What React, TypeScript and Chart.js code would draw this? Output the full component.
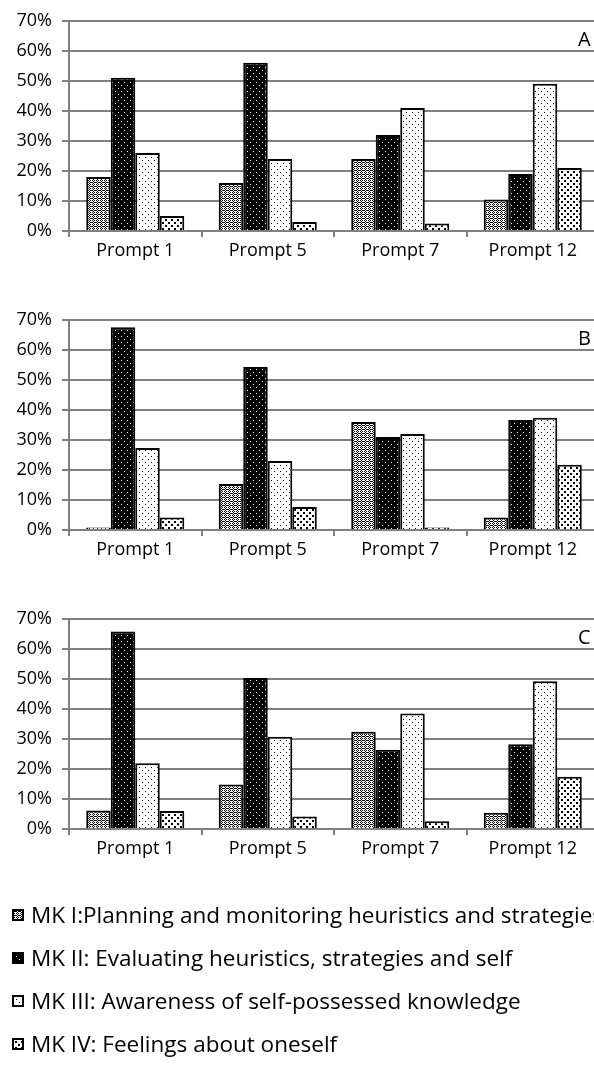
import React, { useEffect, useRef } from "react";
import { Chart, registerables } from "chart.js";

Chart.register(...registerables);

const categories = ["Prompt 1", "Prompt 5", "Prompt 7", "Prompt 12"];
const seriesNames = [
  "MK I:Planning and monitoring heuristics and strategies",
  "MK II: Evaluating heuristics, strategies and self",
  "MK III: Awareness of self-possessed knowledge",
  "MK IV: Feelings about oneself",
];
const yTicks = [0, 10, 20, 30, 40, 50, 60, 70];

// Panel A
const panelA_mk1 = [18, 16, 24, 10.5];
const panelA_mk2 = [51, 56, 32, 19];
const panelA_mk3 = [26, 24, 41, 49];
const panelA_mk4 = [5, 3, 2.5, 21];
// Panel B
const panelB_mk1 = [0.8, 15.3, 36, 4.2];
const panelB_mk2 = [67.5, 54.3, 31, 36.6];
const panelB_mk3 = [27.3, 23, 32, 37.4];
const panelB_mk4 = [4.2, 7.7, 0.8, 21.7];
// Panel C
const panelC_mk1 = [6.2, 14.8, 32.4, 5.4];
const panelC_mk2 = [65.8, 50.3, 26.4, 28.2];
const panelC_mk3 = [21.9, 30.7, 38.5, 49.2];
const panelC_mk4 = [6, 4.2, 2.6, 17.4];

const panels = [
  { letter: "A", data: [panelA_mk1, panelA_mk2, panelA_mk3, panelA_mk4] },
  { letter: "B", data: [panelB_mk1, panelB_mk2, panelB_mk3, panelB_mk4] },
  { letter: "C", data: [panelC_mk1, panelC_mk2, panelC_mk3, panelC_mk4] },
];

const FONT = "'Open Sans', Lato, sans-serif";
const GRID = "#808080";

function makeTile(kind: number): HTMLCanvasElement {
  const c = document.createElement("canvas");
  const ctx = c.getContext("2d")!;
  if (kind === 0) {
    c.width = 4;
    c.height = 4;
    ctx.fillStyle = "#fff";
    ctx.fillRect(0, 0, 4, 4);
    ctx.fillStyle = "#000";
    ctx.fillRect(0, 0, 1, 1);
    ctx.fillRect(2, 0, 1, 1);
    ctx.fillRect(1, 1, 1, 1);
    ctx.fillRect(3, 2, 1, 1);
    ctx.fillRect(0, 2, 1, 1);
    ctx.fillRect(2, 2, 1, 1);
    ctx.fillRect(1, 3, 1, 1);
  } else if (kind === 1) {
    c.width = 6;
    c.height = 6;
    ctx.fillStyle = "#000";
    ctx.fillRect(0, 0, 6, 6);
    ctx.fillStyle = "#fff";
    ctx.fillRect(1, 1, 1, 1);
    ctx.fillRect(4, 4, 1, 1);
  } else if (kind === 2) {
    c.width = 6;
    c.height = 6;
    ctx.fillStyle = "#fff";
    ctx.fillRect(0, 0, 6, 6);
    ctx.fillStyle = "#000";
    ctx.fillRect(1, 1, 1, 1);
    ctx.fillRect(4, 4, 1, 1);
  } else {
    c.width = 6;
    c.height = 6;
    ctx.fillStyle = "#fff";
    ctx.fillRect(0, 0, 6, 6);
    ctx.fillStyle = "#000";
    ctx.fillRect(0, 0, 2, 2);
    ctx.fillRect(3, 3, 2, 2);
  }
  return c;
}

function makePattern(kind: number): CanvasPattern | string {
  const tile = makeTile(kind);
  const tmp = document.createElement("canvas").getContext("2d")!;
  return tmp.createPattern(tile, "repeat") || "#888";
}

function Panel({ letter, data }: { letter: string; data: number[][] }) {
  const ref = useRef<HTMLCanvasElement>(null);
  useEffect(() => {
    if (!ref.current) return;
    const letterPlugin = {
      id: "panelLetter",
      afterDraw(chart: any) {
        const { ctx, chartArea } = chart;
        ctx.save();
        ctx.font = `20px ${FONT}`;
        ctx.fillStyle = "#000";
        ctx.textAlign = "left";
        ctx.textBaseline = "alphabetic";
        ctx.fillText(letter, chartArea.right - 21, chartArea.top + 25);
        ctx.restore();
      },
    };
    const chart = new Chart(ref.current, {
      type: "bar",
      data: {
        labels: categories,
        datasets: data.map((vals, i) => ({
          label: seriesNames[i],
          data: vals,
          backgroundColor: makePattern(i) as any,
          borderColor: "#000",
          borderWidth: 2,
          borderSkipped: "bottom",
          categoryPercentage: 0.74,
          barPercentage: 1.0,
        })),
      },
      options: {
        animation: false,
        responsive: false,
        devicePixelRatio: 1,
        layout: { padding: { top: 20, right: 1, bottom: 29, left: 0 } },
        plugins: { legend: { display: false }, tooltip: { enabled: false } },
        scales: {
          x: {
            afterFit(scale: any) {
              scale.height = 39;
            },
            grid: {
              offset: true,
              drawOnChartArea: false,
              drawTicks: true,
              tickLength: 6,
              color: GRID,
              lineWidth: 2,
            },
            border: { color: GRID, width: 2 },
            ticks: {
              color: "#000",
              font: { family: FONT, size: 18 },
              padding: 3,
              maxRotation: 0,
            },
          },
          y: {
            min: 0,
            max: 70,
            afterFit(scale: any) {
              scale.width = 69;
            },
            afterBuildTicks(scale: any) {
              scale.ticks = yTicks.map((v) => ({ value: v }));
            },
            grid: {
              color: GRID,
              lineWidth: 2,
              drawTicks: true,
              tickLength: 7,
            },
            border: { color: GRID, width: 2 },
            ticks: {
              color: "#000",
              font: { family: FONT, size: 18 },
              padding: 10,
              callback: (v: any) => `${v}%`,
            },
          },
        },
      },
      plugins: [letterPlugin],
    });
    return () => chart.destroy();
  }, [letter, data]);
  return (
    <div style={{ height: 299, width: 600, position: "relative" }}>
      <canvas ref={ref} width={600} height={299} style={{ width: 600, height: 299, display: "block" }} />
    </div>
  );
}

function Swatch({ kind }: { kind: number }) {
  const ref = useRef<HTMLCanvasElement>(null);
  useEffect(() => {
    const c = ref.current;
    if (!c) return;
    const ctx = c.getContext("2d")!;
    const p = ctx.createPattern(makeTile(kind), "repeat");
    ctx.fillStyle = p || "#888";
    ctx.fillRect(0, 0, 12, 12);
    ctx.strokeStyle = "#000";
    ctx.lineWidth = 2;
    ctx.strokeRect(1, 1, 10, 10);
  }, [kind]);
  return <canvas ref={ref} width={12} height={12} style={{ width: 12, height: 12, display: "block" }} />;
}

export default function App() {
  return (
    <div
      style={{
        position: "fixed",
        left: 0,
        top: 0,
        width: 594,
        height: 1066,
        overflow: "hidden",
        background: "#fff",
      }}
    >
      {panels.map((p) => (
        <Panel key={p.letter} letter={p.letter} data={p.data} />
      ))}
      <div style={{ position: "absolute", left: 0, top: 893, width: 760 }}>
        {seriesNames.map((name, i) => (
          <div
            key={name}
            style={{
              display: "flex",
              alignItems: "center",
              height: 43,
              paddingLeft: 12,
              fontFamily: FONT,
              fontSize: 22.5,
              color: "#000",
              whiteSpace: "nowrap",
            }}
          >
            <Swatch kind={i} />
            <span style={{ marginLeft: 7 }}>{name}</span>
          </div>
        ))}
      </div>
    </div>
  );
}
